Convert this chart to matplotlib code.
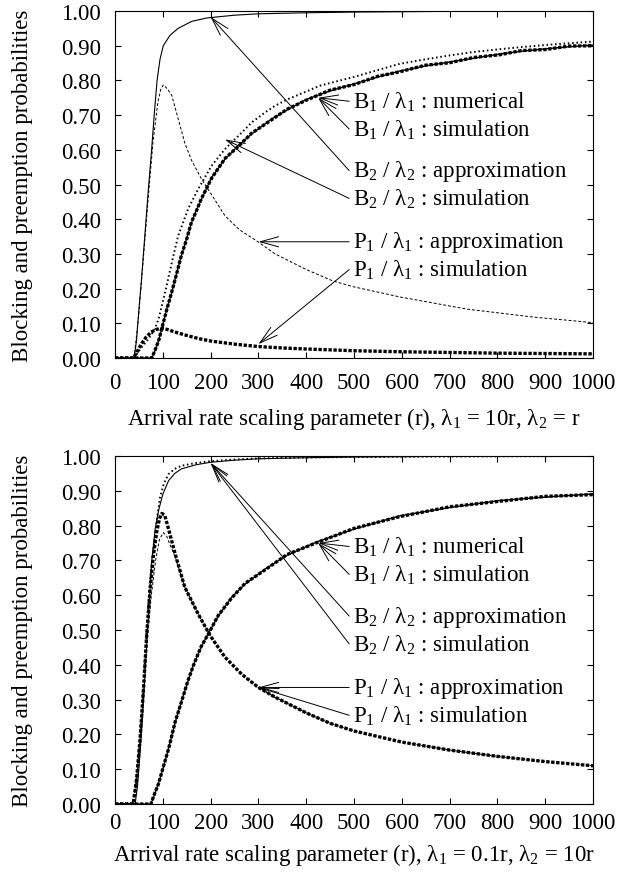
import matplotlib
matplotlib.use("Agg")
import matplotlib.pyplot as plt
from matplotlib.ticker import FormatStrFormatter

plt.rcParams.update(
    {
        "font.family": ["Liberation Serif", "DejaVu Serif"],
        "font.size": 16.5,
        "mathtext.fontset": "custom",
        "mathtext.rm": "Liberation Serif",
        "mathtext.it": "Liberation Serif:italic",
        "mathtext.default": "regular",
        "axes.linewidth": 0.8,
    }
)

# ---------------------------------------------------------------------------
# Scenario 1: lambda_1 = 10r, lambda_2 = r
# ---------------------------------------------------------------------------
s1_b2_approx_r = [0, 40, 45, 50, 55, 60, 65, 70, 76, 82, 88, 94, 101, 115, 132, 160, 192, 250, 300, 400, 500, 700, 1000]
s1_b2_approx = [0, 0, 0.05, 0.14, 0.22, 0.31, 0.4, 0.49, 0.59, 0.7, 0.8, 0.86, 0.9, 0.93, 0.95, 0.97, 0.98, 0.988, 0.992, 0.995, 0.997, 0.999, 1.0]

s1_p1_approx_r = [0, 40, 50, 60, 70, 80, 90, 96, 101, 110, 119, 130, 146, 160, 181, 200, 230, 260, 300, 335, 400, 456, 500, 596, 736, 875, 1000]
s1_p1_approx = [0, 0, 0.13, 0.3, 0.47, 0.63, 0.74, 0.775, 0.787, 0.775, 0.756, 0.70, 0.62, 0.57, 0.516, 0.475, 0.41, 0.37, 0.334, 0.3, 0.255, 0.222, 0.205, 0.176, 0.141, 0.118, 0.102]

s1_b1_num_r = [0, 77, 85, 92, 98, 108, 119, 129, 139, 150, 160, 170, 181, 202, 230, 258, 286, 328, 360, 400, 450, 500, 550, 596, 650, 700, 750, 805, 850, 900, 950, 1000]
s1_b1_num = [0, 0, 0.025, 0.055, 0.084, 0.14, 0.19, 0.245, 0.295, 0.345, 0.39, 0.425, 0.458, 0.52, 0.573, 0.612, 0.646, 0.689, 0.715, 0.745, 0.77, 0.79, 0.81, 0.827, 0.842, 0.853, 0.864, 0.876, 0.884, 0.891, 0.897, 0.902]
s1_b1_sim = [0, 0, 0.027, 0.053, 0.086, 0.138, 0.192, 0.243, 0.297, 0.343, 0.392, 0.423, 0.46, 0.518, 0.575, 0.61, 0.648, 0.687, 0.717, 0.743, 0.772, 0.788, 0.812, 0.825, 0.844, 0.851, 0.866, 0.874, 0.886, 0.889, 0.899, 0.9]

s1_b2_sim_r = [40, 55, 70, 82, 91, 105, 119, 132, 153, 174, 202, 230, 258, 286, 314, 335, 360, 400, 429, 457, 500, 550, 596, 650, 700, 750, 805, 850, 900, 950, 1000]
s1_b2_sim = [0, 0.03, 0.055, 0.08, 0.112, 0.19, 0.276, 0.352, 0.43, 0.487, 0.554, 0.602, 0.64, 0.679, 0.708, 0.727, 0.745, 0.768, 0.785, 0.795, 0.81, 0.83, 0.848, 0.861, 0.872, 0.882, 0.89, 0.896, 0.902, 0.907, 0.912]

s1_p1_sim_r = [0, 38, 45, 55, 65, 75, 85, 95, 100, 110, 125, 150, 175, 200, 250, 300, 350, 400, 500, 600, 700, 800, 900, 1000]
s1_p1_sim = [0, 0, 0.015, 0.04, 0.06, 0.074, 0.082, 0.085, 0.085, 0.082, 0.075, 0.065, 0.056, 0.049, 0.04, 0.033, 0.029, 0.026, 0.021, 0.018, 0.016, 0.014, 0.013, 0.012]

# ---------------------------------------------------------------------------
# Scenario 2: lambda_1 = 0.1r, lambda_2 = 10r
# ---------------------------------------------------------------------------
s2_b2_approx_r = [0, 42, 47, 52, 58, 63, 68, 73, 77, 84, 91, 100, 112, 125, 139, 170, 200, 250, 300, 400, 500, 700, 1000]
s2_b2_approx = [0, 0, 0.05, 0.14, 0.26, 0.38, 0.5, 0.61, 0.7, 0.79, 0.843, 0.89, 0.929, 0.95, 0.963, 0.975, 0.982, 0.988, 0.992, 0.995, 0.997, 0.999, 1.0]

s2_b2_sim_r = [0, 38, 42, 47, 52, 56, 61, 66, 70, 73, 80, 87, 94, 102, 112, 125, 139, 170, 200, 250, 300, 400, 600, 1000]
s2_b2_sim = [0, 0, 0.03, 0.1, 0.18, 0.25, 0.37, 0.5, 0.58, 0.64, 0.73, 0.81, 0.88, 0.92, 0.948, 0.963, 0.972, 0.98, 0.985, 0.99, 0.993, 0.996, 0.998, 1.0]

s2_p1_approx_r = [0, 38, 45, 52, 60, 68, 76, 85, 93, 101, 108, 115, 126, 146, 174, 199, 230, 265, 300, 335, 400, 450, 500, 600, 700, 800, 900, 1000]
s2_p1_approx = [0, 0, 0.07, 0.18, 0.33, 0.48, 0.6, 0.7, 0.76, 0.78, 0.77, 0.745, 0.71, 0.623, 0.546, 0.484, 0.422, 0.373, 0.335, 0.307, 0.262, 0.232, 0.21, 0.178, 0.155, 0.137, 0.122, 0.11]

s2_p1_sim_r = [0, 38, 45, 52, 60, 66, 73, 80, 87, 93, 98, 104, 112, 126, 146, 174, 199, 230, 265, 300, 335, 400, 450, 500, 600, 700, 800, 900, 1000]
s2_p1_sim = [0, 0, 0.07, 0.18, 0.34, 0.48, 0.61, 0.71, 0.78, 0.82, 0.835, 0.83, 0.79, 0.718, 0.623, 0.546, 0.484, 0.422, 0.373, 0.335, 0.307, 0.262, 0.232, 0.21, 0.178, 0.155, 0.137, 0.122, 0.11]

s2_b1_num_r = [0, 75, 82, 91, 100, 112, 126, 140, 152, 164, 180, 195, 216, 244, 272, 314, 360, 422, 500, 596, 700, 805, 900, 1000]
s2_b1_num = [0, 0, 0.025, 0.06, 0.1, 0.16, 0.235, 0.3, 0.35, 0.4, 0.45, 0.49, 0.54, 0.594, 0.632, 0.675, 0.715, 0.753, 0.79, 0.828, 0.852, 0.872, 0.882, 0.891]
s2_b1_sim = [0, 0, 0.027, 0.058, 0.102, 0.158, 0.237, 0.298, 0.352, 0.398, 0.452, 0.488, 0.542, 0.592, 0.634, 0.673, 0.717, 0.751, 0.792, 0.826, 0.854, 0.87, 0.884, 0.889]

# label text, label y position, arrow head (r, prob) for each panel
labels = [
    r"B$_1$ / $\lambda_1$ : numerical",
    r"B$_1$ / $\lambda_1$ : simulation",
    r"B$_2$ / $\lambda_2$ : approximation",
    r"B$_2$ / $\lambda_2$ : simulation",
    r"P$_1$ / $\lambda_1$ : approximation",
    r"P$_1$ / $\lambda_1$ : simulation",
]
label_y = [0.74, 0.66, 0.54, 0.46, 0.335, 0.255]
s1_heads = [(425, 0.75), (425, 0.75), (200, 0.983), (230, 0.63), (300, 0.335), (300, 0.04)]
s2_heads = [(425, 0.75), (425, 0.75), (200, 0.98), (200, 0.98), (300, 0.335), (300, 0.335)]

SIM_DENSE = dict(color="black", lw=2.4, ls=(0, (1, 0.5)))
SIM_SPARSE = dict(color="black", lw=1.4, ls=(0, (0.8, 1.4)))


def style_axes(ax, xlabel, xlabel_y, tick_pad):
    ax.set_xlim(0, 1000)
    ax.set_ylim(0, 1)
    ax.set_xticks(range(0, 1001, 100))
    ax.set_yticks([i / 10 for i in range(11)])
    ax.yaxis.set_major_formatter(FormatStrFormatter("%.2f"))
    ax.tick_params(direction="in", top=True, right=True, length=4.5, width=0.8)
    ax.tick_params(axis="y", pad=10)
    ax.tick_params(axis="x", pad=tick_pad)
    ax.set_ylabel("Blocking and preemption probabilities")
    ax.yaxis.set_label_coords(-0.172, 0.5)
    ax.set_xlabel(xlabel)
    ax.xaxis.set_label_coords(0.5, xlabel_y)


def add_labels(ax, heads):
    for text, y, head in zip(labels, label_y, heads):
        ax.text(498, y, text, ha="left", va="center")
        ax.annotate(
            "",
            xy=head,
            xytext=(490, y),
            arrowprops=dict(
                arrowstyle="->,head_length=0.8,head_width=0.22",
                color="black",
                lw=0.7,
                shrinkA=0,
                shrinkB=0,
            ),
        )


fig = plt.figure(figsize=(6.19, 8.78), dpi=100)
ax1 = fig.add_axes([0.1858, 0.5911, 0.7722, 0.3952])
ax2 = fig.add_axes([0.1858, 0.0831, 0.7722, 0.3964])

# upper panel
ax1.plot(s1_b2_approx_r, s1_b2_approx, color="black", lw=0.8)
ax1.plot(s1_p1_approx_r, s1_p1_approx, color="black", lw=0.7, ls=(0, (3, 2)))
ax1.plot(s1_b1_num_r, s1_b1_num, color="black", lw=1.0)
ax1.plot(s1_b1_num_r, s1_b1_sim, **SIM_DENSE)
ax1.plot(s1_b2_sim_r, s1_b2_sim, **SIM_SPARSE)
ax1.plot(s1_p1_sim_r, s1_p1_sim, **SIM_DENSE)
add_labels(ax1, s1_heads)
style_axes(ax1, r"Arrival rate scaling parameter (r), $\lambda_1$ = 10r, $\lambda_2$ = r", -0.135, 10)

# lower panel
ax2.plot(s2_b2_approx_r, s2_b2_approx, color="black", lw=0.8)
ax2.plot(s2_b2_sim_r, s2_b2_sim, **SIM_SPARSE)
ax2.plot(s2_p1_approx_r, s2_p1_approx, color="black", lw=0.7, ls=(0, (3, 2)))
ax2.plot(s2_p1_sim_r, s2_p1_sim, **SIM_DENSE)
ax2.plot(s2_b1_num_r, s2_b1_num, color="black", lw=1.0)
ax2.plot(s2_b1_num_r, s2_b1_sim, **SIM_DENSE)
add_labels(ax2, s2_heads)
style_axes(ax2, r"Arrival rate scaling parameter (r), $\lambda_1$ = 0.1r, $\lambda_2$ = 10r", -0.105, 6)

fig.savefig("out.png", dpi=100)
